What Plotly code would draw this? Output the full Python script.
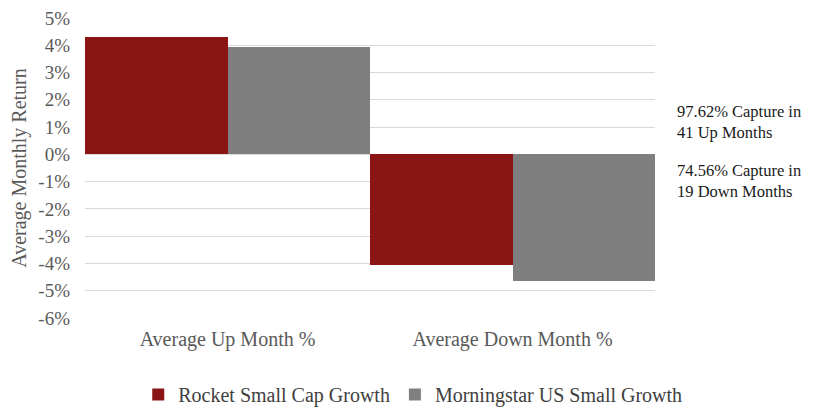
import plotly.graph_objects as go

categories = ["Average Up Month %", "Average Down Month %"]
rocket = [4.29, -4.04]
morningstar = [3.93, -4.63]
series_names = ["Rocket Small Cap Growth", "Morningstar US Small Growth"]
tick_vals = [5, 4, 3, 2, 1, 0, -1, -2, -3, -4, -5, -6]
tick_text = [f"{v}%" for v in tick_vals]
notes = ["97.62% Capture in<br>41 Up Months", "74.56% Capture in<br>19 Down Months"]
note_y = [1.18, -0.97]

FONT = "Liberation Serif"
fig = go.Figure()
fig.add_trace(go.Bar(x=categories, y=rocket, name=series_names[0],
                     marker=dict(color="#8B1414", line=dict(width=0))))
fig.add_trace(go.Bar(x=categories, y=morningstar, name=series_names[1],
                     marker=dict(color="#7F7F7F", line=dict(width=0))))

fig.update_layout(
    width=820, height=411,
    margin=dict(l=85, r=165, t=18, b=93, autoexpand=False),
    paper_bgcolor="white", plot_bgcolor="white",
    barmode="group", bargap=0, bargroupgap=0,
    font=dict(family=FONT, color="#595959", size=16),
    showlegend=True,
    legend=dict(orientation="h", x=0.575, xanchor="center",
                yref="container", y=0.04, yanchor="middle",
                font=dict(size=20, color="#404040"), itemwidth=30, traceorder="normal"),
    xaxis=dict(showgrid=False, showline=False, ticks="", tickfont=dict(size=20),
               ticklabelstandoff=7, automargin=False),
    yaxis=dict(range=[-6, 5], tickvals=tick_vals, ticktext=tick_text,
               showgrid=True, gridcolor="#D9D9D9", gridwidth=1,
               zeroline=True, zerolinecolor="#D9D9D9", zerolinewidth=1,
               ticks="", tickfont=dict(size=19), ticklabelstandoff=14, automargin=False,
               title=dict(text="Average Monthly Return", font=dict(size=20), standoff=6)),
)

for txt, yy in zip(notes, note_y):
    fig.add_annotation(text=txt, xref="paper", yref="y", x=1.035, y=yy,
                       xanchor="left", yanchor="middle", showarrow=False, align="left",
                       font=dict(family=FONT, size=16.5, color="#1a1a1a"))

fig.write_html("out.html", config={"displayModeBar": False},
               post_script="document.body.style.margin='0';")
